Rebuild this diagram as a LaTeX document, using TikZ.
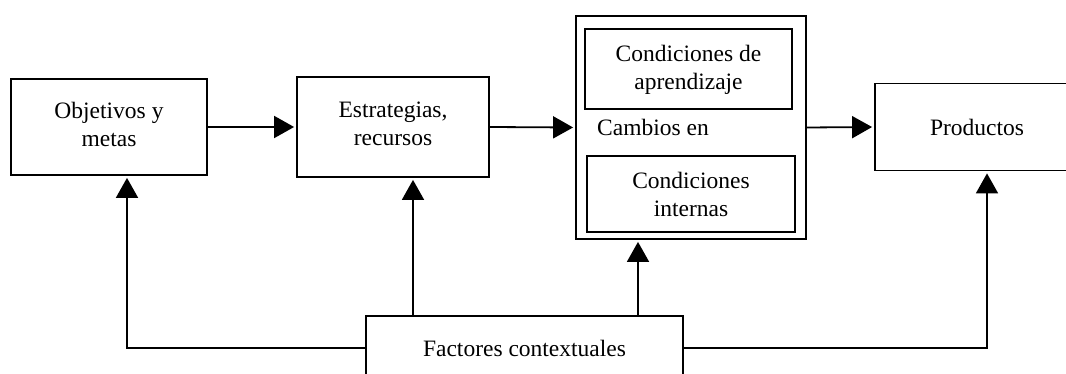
\documentclass[tikz,border=0pt]{standalone}
\usepackage{fontspec}
\setmainfont{Liberation Serif}
\usetikzlibrary{arrows.meta}
\tikzset{
  box/.style={draw, line width=1.8pt, align=center, inner sep=0pt,
    font=\fontsize{23.5}{28}\selectfont},
  lbl/.style={inner sep=0pt, font=\fontsize{23.5}{28}\selectfont},
  arr/.style={line width=1.8pt, -{Triangle[length=20pt,width=22pt]}, shorten >=2pt}
}
\begin{document}
\begin{tikzpicture}[x=1pt,y=-1pt]
\useasboundingbox (0,0) rectangle (1066,374);
\clip (0,0) rectangle (1066,374);
\node[box, minimum width=196pt, minimum height=96pt] (obj) at (109,127) {Objetivos y\\metas\\[-22pt]};
\node[box, minimum width=192pt, minimum height=100pt] (est) at (393,127) {Estrategias,\\recursos\\[-22pt]};
\node[box, minimum width=230pt, minimum height=223pt] (outer) at (691,127.5) {};
\node[box, minimum width=207pt, minimum height=80pt] (ap) at (688.5,69) {Condiciones de\\aprendizaje\\[-24pt]};
\node[box, minimum width=208pt, minimum height=76pt] (int) at (691,194) {Condiciones\\internas};
\node[lbl, anchor=west] (cam) at (597,127) {Cambios en};
\node[box, minimum width=204pt, minimum height=87pt] (prod) at (977,127) {Productos};
\node[box, minimum width=317pt, minimum height=64pt] (fac) at (524.5,348) {Factores contextuales};
\draw[arr] (obj.east) -- (est.west);
\draw[arr] (est.east) -- (outer.west);
\draw[arr] (outer.east) -- (prod.west);
\draw[arr] (fac.west) -| ([xshift=18pt]obj.south);
\draw[arr] ([xshift=20pt]est.south |- fac.north) -- ([xshift=20pt]est.south);
\draw[arr] ([xshift=-53pt]outer.south |- fac.north) -- ([xshift=-53pt]outer.south);
\draw[arr] (fac.east) -| ([xshift=10pt]prod.south);
\end{tikzpicture}
\end{document}
